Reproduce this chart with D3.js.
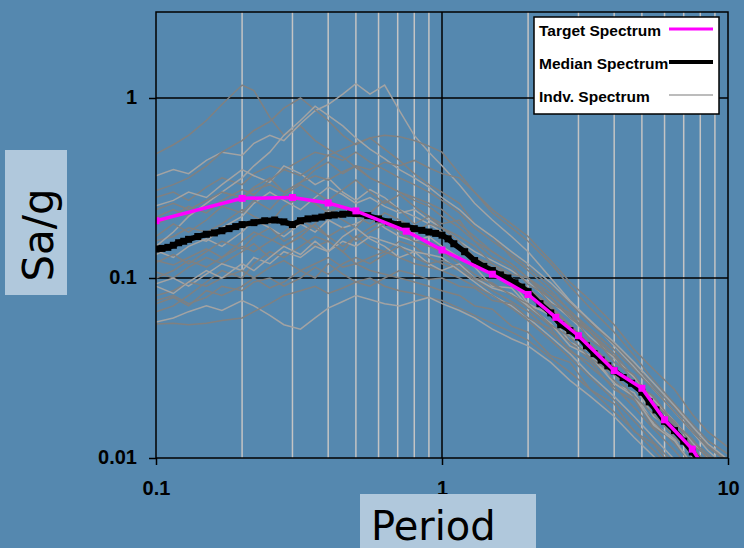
<!DOCTYPE html>
<html>
<head>
<meta charset="utf-8">
<script src="https://cdn.jsdelivr.net/npm/d3@7"></script>
<style>
  html, body { margin: 0; padding: 0; background: #5588af; }
  svg { display: block; }
</style>
</head>
<body>
<div id="graph"></div>
<script>
// periods used by the individual records (s)
const periods = [0.1, 0.115, 0.13, 0.15, 0.17, 0.2, 0.22, 0.25, 0.28, 0.32, 0.36, 0.4, 0.45, 0.5, 0.56, 0.63, 0.71, 0.8, 0.9, 1.0,
  1.15, 1.3, 1.5, 1.75, 2.0, 2.4, 2.8, 3.3, 4.0, 4.7, 5.5, 6.5, 7.5, 8.5, 10];

// individual record spectra, Sa/g at each period above
const indvSpectra = [
  [0.49, 0.55, 0.62, 0.75, 0.92, 1.18, 1.1, 0.78, 0.62, 0.7, 0.58, 0.52, 0.47, 0.41, 0.36, 0.33, 0.3, 0.27, 0.25, 0.22, 0.19, 0.16, 0.14, 0.12, 0.1, 0.078, 0.062, 0.05, 0.036, 0.028, 0.021, 0.016, 0.0125, 0.0105, 0.0085],
  [0.37, 0.4, 0.38, 0.45, 0.5, 0.48, 0.56, 0.62, 0.58, 0.72, 0.85, 0.92, 1.05, 1.2, 1.05, 1.18, 0.85, 0.62, 0.5, 0.42, 0.33, 0.26, 0.21, 0.17, 0.14, 0.1, 0.075, 0.058, 0.042, 0.032, 0.024, 0.018, 0.014, 0.011, 0.0088],
  [0.306, 0.33, 0.36, 0.42, 0.5, 0.58, 0.66, 0.74, 0.88, 1.0, 0.86, 0.75, 0.62, 0.55, 0.6, 0.52, 0.45, 0.38, 0.33, 0.3, 0.26, 0.2, 0.17, 0.13, 0.11, 0.085, 0.066, 0.05, 0.038, 0.028, 0.021, 0.015, 0.0115, 0.0092, 0.0072],
  [0.281, 0.3, 0.27, 0.32, 0.36, 0.33, 0.38, 0.42, 0.4, 0.45, 0.5, 0.48, 0.52, 0.56, 0.6, 0.62, 0.61, 0.58, 0.54, 0.5, 0.38, 0.3, 0.23, 0.19, 0.16, 0.12, 0.09, 0.068, 0.05, 0.037, 0.027, 0.02, 0.0155, 0.0125, 0.0105],
  [0.252, 0.27, 0.3, 0.28, 0.33, 0.4, 0.37, 0.34, 0.42, 0.38, 0.33, 0.36, 0.3, 0.27, 0.31, 0.28, 0.24, 0.22, 0.2, 0.18, 0.15, 0.13, 0.105, 0.096, 0.072, 0.062, 0.044, 0.039, 0.026, 0.023, 0.0155, 0.0128, 0.009, 0.0079, 0.006],
  [0.218, 0.24, 0.22, 0.26, 0.3, 0.28, 0.32, 0.36, 0.3, 0.34, 0.4, 0.44, 0.38, 0.42, 0.36, 0.33, 0.3, 0.28, 0.26, 0.24, 0.2, 0.17, 0.14, 0.12, 0.1, 0.082, 0.066, 0.052, 0.04, 0.031, 0.024, 0.018, 0.014, 0.0115, 0.0095],
  [0.161, 0.17, 0.19, 0.18, 0.2, 0.24, 0.22, 0.2, 0.25, 0.28, 0.26, 0.23, 0.25, 0.22, 0.2, 0.23, 0.21, 0.19, 0.18, 0.17, 0.15, 0.13, 0.12, 0.1, 0.088, 0.07, 0.055, 0.043, 0.032, 0.025, 0.019, 0.0145, 0.011, 0.009, 0.0073],
  [0.142, 0.13, 0.15, 0.165, 0.15, 0.18, 0.21, 0.19, 0.17, 0.2, 0.18, 0.21, 0.19, 0.2, 0.22, 0.19, 0.17, 0.16, 0.17, 0.15, 0.13, 0.115, 0.09, 0.088, 0.07, 0.064, 0.047, 0.042, 0.029, 0.025, 0.017, 0.0142, 0.0101, 0.009, 0.0068],
  [0.122, 0.135, 0.12, 0.14, 0.16, 0.145, 0.17, 0.19, 0.16, 0.18, 0.2, 0.17, 0.19, 0.16, 0.18, 0.2, 0.18, 0.16, 0.15, 0.14, 0.12, 0.105, 0.092, 0.08, 0.068, 0.054, 0.044, 0.035, 0.027, 0.021, 0.016, 0.012, 0.0092, 0.0075, 0.0062],
  [0.108, 0.1, 0.115, 0.13, 0.12, 0.14, 0.155, 0.13, 0.15, 0.17, 0.15, 0.16, 0.14, 0.17, 0.15, 0.14, 0.16, 0.15, 0.13, 0.12, 0.11, 0.098, 0.085, 0.074, 0.065, 0.05, 0.04, 0.032, 0.025, 0.019, 0.0145, 0.011, 0.0085, 0.007, 0.0058],
  [0.093, 0.1, 0.09, 0.105, 0.12, 0.11, 0.13, 0.12, 0.14, 0.13, 0.15, 0.14, 0.16, 0.15, 0.17, 0.16, 0.15, 0.14, 0.135, 0.13, 0.11, 0.095, 0.08, 0.07, 0.06, 0.047, 0.038, 0.029, 0.022, 0.017, 0.013, 0.0098, 0.0078, 0.0064, 0.0052],
  [0.08, 0.085, 0.095, 0.09, 0.1, 0.11, 0.1, 0.115, 0.125, 0.11, 0.12, 0.13, 0.115, 0.12, 0.11, 0.105, 0.1, 0.095, 0.09, 0.085, 0.08, 0.07, 0.067, 0.054, 0.05, 0.037, 0.034, 0.024, 0.02, 0.014, 0.012, 0.0085, 0.0073, 0.0055, 0.0048],
  [0.072, 0.078, 0.07, 0.085, 0.08, 0.09, 0.1, 0.088, 0.095, 0.11, 0.1, 0.12, 0.105, 0.095, 0.1, 0.09, 0.085, 0.082, 0.078, 0.075, 0.068, 0.062, 0.056, 0.05, 0.045, 0.036, 0.03, 0.024, 0.018, 0.0142, 0.011, 0.0084, 0.0066, 0.0054, 0.0044],
  [0.057, 0.06, 0.065, 0.07, 0.066, 0.075, 0.07, 0.062, 0.055, 0.052, 0.06, 0.068, 0.074, 0.08, 0.076, 0.072, 0.07, 0.074, 0.078, 0.072, 0.066, 0.06, 0.052, 0.046, 0.042, 0.034, 0.027, 0.022, 0.017, 0.013, 0.0102, 0.0078, 0.0062, 0.005, 0.004],
  [0.0555, 0.056, 0.055, 0.056, 0.058, 0.06, 0.065, 0.072, 0.08, 0.085, 0.09, 0.082, 0.088, 0.095, 0.09, 0.1, 0.11, 0.105, 0.098, 0.1, 0.09, 0.088, 0.075, 0.072, 0.06, 0.052, 0.039, 0.034, 0.024, 0.021, 0.0148, 0.0125, 0.0093, 0.0083, 0.0064],
  [0.2, 0.22, 0.25, 0.23, 0.27, 0.31, 0.29, 0.35, 0.4, 0.37, 0.42, 0.48, 0.45, 0.5, 0.44, 0.4, 0.36, 0.33, 0.3, 0.27, 0.23, 0.19, 0.16, 0.135, 0.115, 0.09, 0.072, 0.056, 0.043, 0.033, 0.025, 0.019, 0.0145, 0.0118, 0.0096],
  [0.135, 0.15, 0.17, 0.16, 0.19, 0.22, 0.26, 0.3, 0.27, 0.24, 0.28, 0.32, 0.29, 0.26, 0.28, 0.25, 0.23, 0.24, 0.21, 0.19, 0.16, 0.14, 0.125, 0.11, 0.095, 0.074, 0.06, 0.047, 0.036, 0.028, 0.021, 0.016, 0.0122, 0.01, 0.0082],
  [0.1, 0.11, 0.125, 0.115, 0.13, 0.15, 0.14, 0.16, 0.18, 0.21, 0.19, 0.17, 0.15, 0.17, 0.19, 0.21, 0.2, 0.18, 0.2, 0.19, 0.16, 0.13, 0.115, 0.1, 0.088, 0.068, 0.054, 0.042, 0.032, 0.025, 0.019, 0.0145, 0.011, 0.0092, 0.0075],
  [0.065, 0.07, 0.08, 0.095, 0.11, 0.1, 0.12, 0.14, 0.13, 0.15, 0.17, 0.16, 0.14, 0.12, 0.13, 0.14, 0.13, 0.12, 0.115, 0.11, 0.1, 0.09, 0.08, 0.068, 0.058, 0.045, 0.036, 0.028, 0.021, 0.016, 0.0122, 0.0093, 0.0074, 0.006, 0.005],
  [0.15, 0.18, 0.22, 0.26, 0.3, 0.36, 0.42, 0.5, 0.62, 0.75, 0.9, 0.8, 0.7, 0.6, 0.52, 0.46, 0.4, 0.36, 0.32, 0.28, 0.24, 0.2, 0.17, 0.14, 0.12, 0.094, 0.074, 0.058, 0.044, 0.034, 0.026, 0.0195, 0.015, 0.012, 0.0098],
  [0.17, 0.2, 0.18, 0.21, 0.25, 0.23, 0.27, 0.24, 0.29, 0.33, 0.3, 0.27, 0.31, 0.35, 0.3, 0.26, 0.29, 0.25, 0.22, 0.2, 0.21, 0.16, 0.13, 0.115, 0.092, 0.078, 0.06, 0.05, 0.034, 0.029, 0.02, 0.016, 0.0118, 0.0102, 0.0085],
  [0.125, 0.118, 0.13, 0.145, 0.13, 0.16, 0.18, 0.165, 0.15, 0.17, 0.2, 0.24, 0.21, 0.19, 0.23, 0.27, 0.24, 0.2, 0.22, 0.19, 0.17, 0.15, 0.12, 0.105, 0.1, 0.072, 0.064, 0.045, 0.037, 0.026, 0.022, 0.0155, 0.0128, 0.0098, 0.0082],
  [0.09, 0.082, 0.095, 0.11, 0.1, 0.12, 0.11, 0.13, 0.15, 0.135, 0.16, 0.14, 0.17, 0.19, 0.165, 0.15, 0.13, 0.14, 0.12, 0.11, 0.12, 0.1, 0.088, 0.082, 0.07, 0.056, 0.042, 0.037, 0.026, 0.022, 0.0152, 0.0125, 0.0092, 0.0078, 0.0061],
  [0.24, 0.26, 0.24, 0.27, 0.3, 0.28, 0.31, 0.33, 0.3, 0.34, 0.37, 0.35, 0.39, 0.42, 0.4, 0.44, 0.42, 0.45, 0.41, 0.38, 0.36, 0.3, 0.24, 0.2, 0.17, 0.125, 0.095, 0.075, 0.055, 0.04, 0.031, 0.024, 0.0175, 0.014, 0.0115],
  [0.075, 0.08, 0.072, 0.078, 0.09, 0.085, 0.095, 0.1, 0.09, 0.1, 0.115, 0.105, 0.12, 0.13, 0.12, 0.135, 0.15, 0.13, 0.12, 0.125, 0.115, 0.1, 0.094, 0.08, 0.072, 0.055, 0.047, 0.036, 0.029, 0.022, 0.0175, 0.013, 0.011, 0.0088, 0.0074]
];

// median of the records
const medianPeriods = [0.1, 0.105, 0.11, 0.115, 0.12, 0.125, 0.13, 0.14, 0.15, 0.16, 0.17, 0.18, 0.19, 0.2, 0.22, 0.24, 0.26, 0.28, 0.3, 0.32,
  0.34, 0.36, 0.38, 0.4, 0.42, 0.45, 0.48, 0.5, 0.55, 0.6, 0.65, 0.7, 0.75, 0.8, 0.85, 0.9, 0.95, 1.0, 1.05, 1.1,
  1.2, 1.3, 1.4, 1.5, 1.6, 1.7, 1.8, 1.9, 2.0, 2.2, 2.4, 2.6, 2.8, 3.0, 3.2, 3.4, 3.6, 3.8, 4.0, 4.3,
  4.6, 5.0, 5.3, 5.6, 6.0, 6.5, 7.0, 7.5, 8.0];
const medianValues = [0.145, 0.146, 0.148, 0.152, 0.157, 0.16, 0.164, 0.17, 0.175, 0.178, 0.183, 0.188, 0.193, 0.198, 0.203, 0.208, 0.21, 0.205, 0.198, 0.208,
  0.213, 0.215, 0.218, 0.222, 0.224, 0.226, 0.229, 0.228, 0.222, 0.213, 0.205, 0.198, 0.194, 0.188, 0.184, 0.18, 0.177, 0.173, 0.165, 0.155,
  0.14, 0.125, 0.116, 0.11, 0.104, 0.1, 0.094, 0.089, 0.084, 0.072, 0.064, 0.055, 0.051, 0.047, 0.042, 0.038, 0.035, 0.0325, 0.0305, 0.028,
  0.026, 0.0232, 0.0205, 0.0185, 0.016, 0.0142, 0.0124, 0.0108, 0.0095];

// target (design) spectrum
const targetPeriods = [0.1, 0.2, 0.3, 0.4, 0.5, 0.75, 1.0, 1.5, 2.0, 2.5, 3.0, 4.0, 5.0, 6.0, 7.5, 10];
const targetValues = [0.208, 0.277, 0.28, 0.261, 0.236, 0.182, 0.143, 0.105, 0.081, 0.0605, 0.0478, 0.0306, 0.0244, 0.0163, 0.0112, 0.0055];

const xTicks = [0.1, 1, 10];
const yTicks = [0.01, 0.1, 1];
const legendLabels = ["Target Spectrum", "Median Spectrum", "Indv. Spectrum"];

function SpectrumChart() {
  const width = 744;
  const height = 548;
  const config = { left: 156, right: 728, top: 12, bottom: 458 };
  const axisFont = "'Liberation Sans', Arial, sans-serif";
  const titleFont = "'DejaVu Sans', Verdana, sans-serif";

  const svg = d3
    .select("#graph")
    .append("svg")
    .attr("width", width)
    .attr("height", height);

  svg.append("rect").attr("width", width).attr("height", height).attr("fill", "#5588af");

  const x = d3.scaleLog().domain([0.1, 10]).range([config.left, config.right]);
  const y = d3.scaleLog().domain([0.01, 1]).range([config.bottom, 98]);
  const yTop = y.invert(config.top);

  svg
    .append("clipPath")
    .attr("id", "plot-clip")
    .append("rect")
    .attr("x", config.left)
    .attr("y", config.top)
    .attr("width", config.right - config.left)
    .attr("height", config.bottom - config.top);

  // minor vertical grid
  const minorX = [];
  [0.1, 1].forEach((dec) => {
    for (let k = 2; k <= 9; k++) minorX.push(dec * k);
  });
  svg
    .append("g")
    .selectAll("line")
    .data(minorX)
    .enter()
    .append("line")
    .attr("x1", (d) => x(d))
    .attr("x2", (d) => x(d))
    .attr("y1", y(yTop))
    .attr("y2", y(0.01))
    .attr("stroke", "#c4c4c4")
    .attr("stroke-width", 1.5);

  // major grid
  svg
    .append("line")
    .attr("x1", x(1))
    .attr("x2", x(1))
    .attr("y1", y(yTop))
    .attr("y2", y(0.01))
    .attr("stroke", "#000")
    .attr("stroke-width", 1.5);
  svg
    .append("g")
    .selectAll("line")
    .data([0.1, 1])
    .enter()
    .append("line")
    .attr("x1", x(0.1))
    .attr("x2", x(10))
    .attr("y1", (d) => y(d))
    .attr("y2", (d) => y(d))
    .attr("stroke", "#000")
    .attr("stroke-width", 1.5);

  const plot = svg.append("g").attr("clip-path", "url(#plot-clip)");

  const line = d3
    .line()
    .x((d) => x(d[0]))
    .y((d) => y(d[1]));

  plot
    .selectAll(".indv")
    .data(indvSpectra)
    .enter()
    .append("path")
    .attr("class", "indv")
    .attr("d", (vals) => line(vals.map((v, i) => [periods[i], v])))
    .attr("fill", "none")
    .attr("stroke", (d, i) => (i % 3 === 1 ? "#a3a3a3" : "#808080"))
    .attr("stroke-width", 1.5);

  const median = medianPeriods.map((p, i) => [p, medianValues[i]]);
  plot
    .append("path")
    .attr("d", line(median))
    .attr("fill", "none")
    .attr("stroke", "#000")
    .attr("stroke-width", 5.5)
    .attr("stroke-linejoin", "round");
  plot
    .selectAll(".median-pt")
    .data(median)
    .enter()
    .append("rect")
    .attr("class", "median-pt")
    .attr("x", (d) => x(d[0]) - 3.5)
    .attr("y", (d) => y(d[1]) - 3.5)
    .attr("width", 7)
    .attr("height", 7)
    .attr("fill", "#000");

  const target = targetPeriods.map((p, i) => [p, targetValues[i]]);
  plot
    .append("path")
    .attr("d", line(target))
    .attr("fill", "none")
    .attr("stroke", "#ff00ff")
    .attr("stroke-width", 3.5);
  plot
    .selectAll(".target-pt")
    .data(target)
    .enter()
    .append("rect")
    .attr("class", "target-pt")
    .attr("x", (d) => x(d[0]) - 3.5)
    .attr("y", (d) => y(d[1]) - 3.5)
    .attr("width", 7)
    .attr("height", 7)
    .attr("fill", "#ff00ff");

  // frame
  svg
    .append("rect")
    .attr("x", config.left)
    .attr("y", config.top)
    .attr("width", config.right - config.left)
    .attr("height", config.bottom - config.top)
    .attr("fill", "none")
    .attr("stroke", "#000")
    .attr("stroke-width", 1.5);

  const xAxis = d3
    .axisBottom(x)
    .tickValues(xTicks)
    .tickSize(7)
    .tickPadding(16)
    .tickFormat((d) => d3.format("~g")(d));
  const yAxis = d3
    .axisLeft(y)
    .tickValues(yTicks)
    .tickSize(7)
    .tickPadding(12)
    .tickFormat((d) => d3.format("~g")(d));

  const gx = svg.append("g").attr("transform", `translate(0,${config.bottom})`).call(xAxis);
  const gy = svg.append("g").attr("transform", `translate(${config.left},0)`).call(yAxis);
  [gx, gy].forEach((g) => {
    g.select(".domain").remove();
    g.selectAll(".tick line").attr("stroke", "#000").attr("stroke-width", 1.5);
    g.selectAll(".tick text")
      .attr("fill", "#000")
      .style("font-family", axisFont)
      .style("font-weight", "bold")
      .style("font-size", "20px");
  });
  gy.selectAll(".tick text").attr("dy", "0.25em");

  // axis titles on light boxes
  svg.append("rect").attr("x", 5).attr("y", 150).attr("width", 62).attr("height", 145).attr("fill", "#b0c8dc");
  svg
    .append("text")
    .attr("transform", "translate(53,235) rotate(-90)")
    .attr("text-anchor", "middle")
    .style("font-family", titleFont)
    .style("font-size", "42px")
    .text("Sa/g");

  svg.append("rect").attr("x", 360).attr("y", 494).attr("width", 176).attr("height", 54).attr("fill", "#b0c8dc");
  svg
    .append("text")
    .attr("x", 371)
    .attr("y", 540)
    .style("font-family", titleFont)
    .style("font-size", "40px")
    .text("Period");

  // legend
  const legend = svg.append("g").attr("transform", "translate(534,17)");
  legend
    .append("rect")
    .attr("width", 185)
    .attr("height", 97)
    .attr("fill", "#fff")
    .attr("stroke", "#000")
    .attr("stroke-width", 1.5);

  const legendStyles = [
    { color: "#ff00ff", w: 3 },
    { color: "#000", w: 4 },
    { color: "#a6a6a6", w: 1.5 },
  ];
  const entries = legend
    .selectAll(".legend-entry")
    .data(legendLabels)
    .enter()
    .append("g")
    .attr("class", "legend-entry")
    .attr("transform", (d, i) => `translate(0,${12 + i * 33})`);

  entries
    .append("text")
    .attr("x", 5)
    .attr("y", 7)
    .style("font-family", axisFont)
    .style("font-weight", "bold")
    .style("font-size", "15.5px")
    .text((d) => d);

  entries
    .append("line")
    .attr("x1", 135)
    .attr("x2", 179)
    .attr("y1", 0)
    .attr("y2", 0)
    .attr("stroke", (d, i) => legendStyles[i].color)
    .attr("stroke-width", (d, i) => legendStyles[i].w);
}

SpectrumChart();
</script>
</body>
</html>
